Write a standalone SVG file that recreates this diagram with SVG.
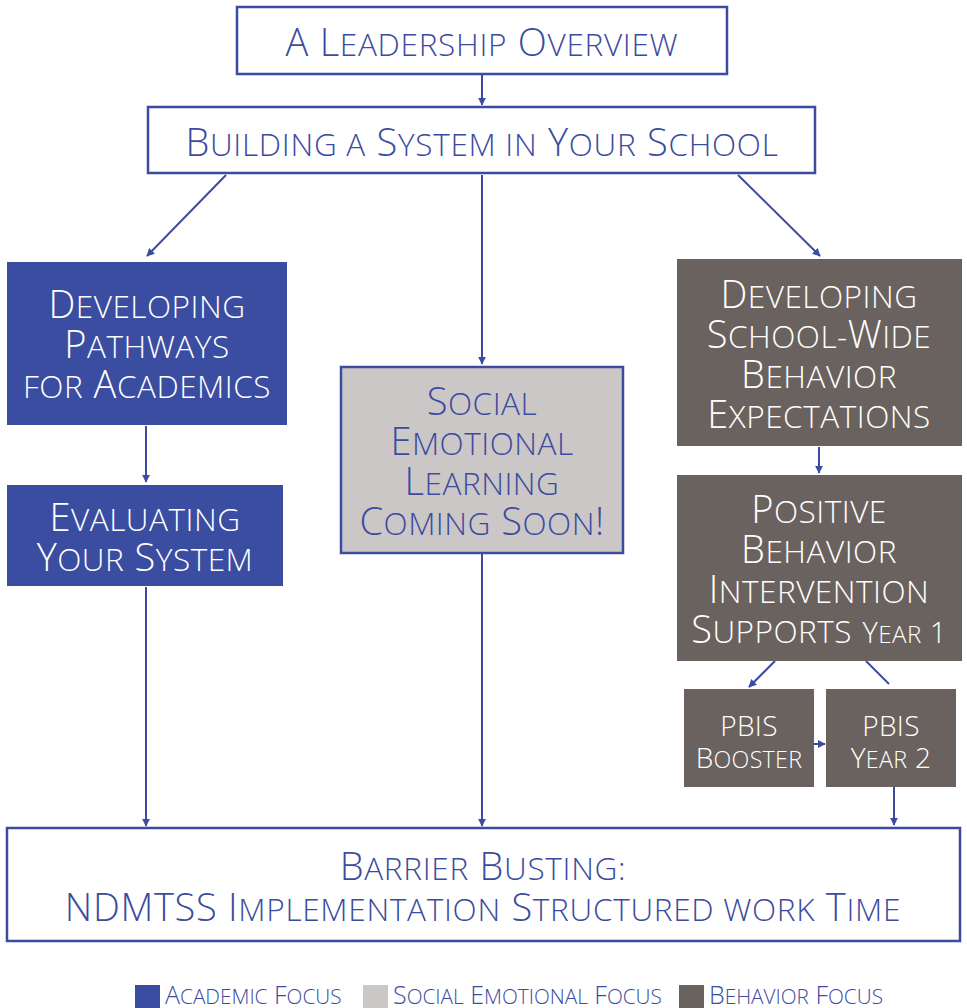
<svg xmlns="http://www.w3.org/2000/svg" width="967" height="1008" viewBox="0 0 967 1008">
<style>
text{font-family:"Open Sans","Noto Sans",sans-serif;font-weight:300;text-anchor:middle}
.u{text-transform:uppercase;font-size:0.83em}
.t{fill:#3B4BA0}
.w{fill:#FFFFFF}
.big{font-size:38px;letter-spacing:0.7px}
.mid{font-size:38px;letter-spacing:0.5px}
.sm{font-size:28px;letter-spacing:0.3px}
.leg{font-size:25px;text-anchor:start}
.ob{fill:#FFFFFF;stroke:#3B4BA0;stroke-width:2.5}
.blue{fill:#3A4DA0}
.gray{fill:#CBC7C7;stroke:#3B4BA0;stroke-width:2.5}
.brown{fill:#6A625E}
.c{stroke:#3B4BA0;stroke-width:2;fill:none}
</style>
<defs>
<marker id="a" viewBox="0 0 10 10" refX="9" refY="5" markerWidth="4" markerHeight="4" orient="auto"><path d="M0,0L10,5L0,10z" fill="#3B4BA0"/></marker>
</defs>
<g id="connectors">
<line class="c" x1="482" y1="74" x2="482" y2="105" marker-end="url(#a)"/>
<line class="c" x1="226" y1="175" x2="147" y2="256" marker-end="url(#a)"/>
<line class="c" x1="482" y1="175" x2="482" y2="364" marker-end="url(#a)"/>
<line class="c" x1="738" y1="175" x2="820" y2="256" marker-end="url(#a)"/>
<line class="c" x1="146" y1="426" x2="146" y2="482" marker-end="url(#a)"/>
<line class="c" x1="146" y1="587" x2="146" y2="826" marker-end="url(#a)"/>
<line class="c" x1="482" y1="554" x2="482" y2="826" marker-end="url(#a)"/>
<line class="c" x1="819" y1="447" x2="819" y2="473" marker-end="url(#a)"/>
<line class="c" x1="775" y1="661" x2="749" y2="687" marker-end="url(#a)"/>
<line class="c" x1="866" y1="661" x2="889" y2="684"/>
<line class="c" x1="814" y1="744" x2="825" y2="744" marker-end="url(#a)"/>
<line class="c" x1="894" y1="787" x2="894" y2="825" marker-end="url(#a)"/>
</g>
<g id="n-overview">
<rect class="ob" x="237" y="7" width="490" height="67"/>
<text class="t big" x="482" y="56">A L<tspan class="u">eadership</tspan> O<tspan class="u">verview</tspan></text>
</g>
<g id="n-building">
<rect class="ob" x="148" y="107" width="667" height="66"/>
<text class="t big" x="482" y="156">B<tspan class="u">uilding a</tspan> S<tspan class="u">ystem in</tspan> Y<tspan class="u">our</tspan> S<tspan class="u">chool</tspan></text>
</g>
<g id="n-pathways">
<rect class="blue" x="7" y="262" width="280" height="163"/>
<text class="w mid" x="147" y="318">D<tspan class="u">eveloping</tspan></text>
<text class="w mid" x="147" y="358">P<tspan class="u">athways</tspan></text>
<text class="w mid" x="147" y="398"><tspan class="u">for</tspan> A<tspan class="u">cademics</tspan></text>
</g>
<g id="n-evaluating">
<rect class="blue" x="7" y="485" width="276" height="101"/>
<text class="w mid" x="145" y="531">E<tspan class="u">valuating</tspan></text>
<text class="w mid" x="145" y="571">Y<tspan class="u">our</tspan> S<tspan class="u">ystem</tspan></text>
</g>
<g id="n-sel">
<rect class="gray" x="341" y="367" width="282" height="186"/>
<text class="t mid" x="482" y="415">S<tspan class="u">ocial</tspan></text>
<text class="t mid" x="482" y="455">E<tspan class="u">motional</tspan></text>
<text class="t mid" x="482" y="495">L<tspan class="u">earning</tspan></text>
<text class="t mid" x="482" y="535">C<tspan class="u">oming</tspan> S<tspan class="u">oon</tspan>!</text>
</g>
<g id="n-behavior">
<rect class="brown" x="677" y="259" width="285" height="187"/>
<text class="w mid" x="819" y="308">D<tspan class="u">eveloping</tspan></text>
<text class="w mid" x="819" y="348">S<tspan class="u">chool-</tspan>W<tspan class="u">ide</tspan></text>
<text class="w mid" x="819" y="388">B<tspan class="u">ehavior</tspan></text>
<text class="w mid" x="819" y="428">E<tspan class="u">xpectations</tspan></text>
</g>
<g id="n-pbis1">
<rect class="brown" x="677" y="475" width="285" height="186"/>
<text class="w mid" x="819" y="523">P<tspan class="u">ositive</tspan></text>
<text class="w mid" x="819" y="563">B<tspan class="u">ehavior</tspan></text>
<text class="w mid" x="819" y="603">I<tspan class="u">ntervention</tspan></text>
<text class="w mid" x="819" y="643">S<tspan class="u">upports</tspan> <tspan font-size="29">Y<tspan class="u">ear</tspan> 1</tspan></text>
</g>
<g id="n-booster">
<rect class="brown" x="684" y="689" width="130" height="98"/>
<text class="w sm" x="749" y="736">PBIS</text>
<text class="w sm" x="749" y="768">B<tspan class="u">ooster</tspan></text>
</g>
<g id="n-pbis2">
<rect class="brown" x="826" y="689" width="130" height="98"/>
<text class="w sm" x="891" y="736">PBIS</text>
<text class="w sm" x="891" y="768">Y<tspan class="u">ear</tspan> 2</text>
</g>
<g id="n-barrier">
<rect class="ob" x="7" y="828" width="953" height="113"/>
<text class="t big" x="483" y="880">B<tspan class="u">arrier</tspan> B<tspan class="u">usting:</tspan></text>
<text class="t big" x="483" y="921">NDMTSS I<tspan class="u">mplementation</tspan> S<tspan class="u">tructured work</tspan> T<tspan class="u">ime</tspan></text>
</g>
<g id="legend">
<rect class="blue" x="135" y="985" width="25" height="23"/>
<text class="t leg" x="165" y="1004">A<tspan class="u">cademic</tspan> F<tspan class="u">ocus</tspan></text>
<rect fill="#CBC7C7" x="363" y="985" width="25" height="23"/>
<text class="t leg" x="393" y="1004">S<tspan class="u">ocial</tspan> E<tspan class="u">motional</tspan> F<tspan class="u">ocus</tspan></text>
<rect class="brown" x="679" y="985" width="25" height="23"/>
<text class="t leg" x="709" y="1004">B<tspan class="u">ehavior</tspan> F<tspan class="u">ocus</tspan></text>
</g>
</svg>
